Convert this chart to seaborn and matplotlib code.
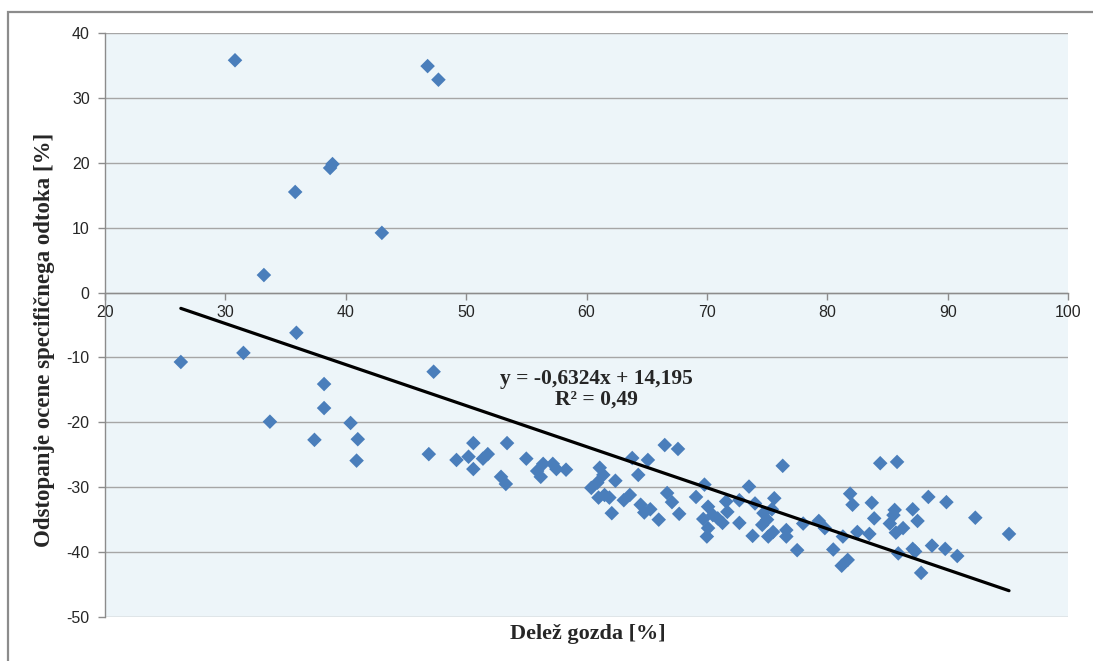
import matplotlib
matplotlib.use("Agg")
import matplotlib.pyplot as plt
import seaborn as sns
import pandas as pd
import numpy as np
from matplotlib.patches import Rectangle

# ---- data ----
forest_share = [
    30.8, 46.8, 47.7, 38.7, 38.9, 35.8, 43.0, 33.2, 35.9, 26.3, 31.5, 38.2, 38.2,
    33.7, 37.4, 40.4, 41.0, 40.9, 47.3, 46.9, 49.2, 50.2, 50.6, 50.6, 51.4, 51.8,
    53.4, 52.9, 53.3, 55.0, 55.9, 56.2, 56.4, 57.2, 57.5, 58.3, 61.1, 61.4, 60.4,
    60.9, 61.0, 61.5, 61.9, 62.4, 62.1, 63.1, 63.6, 63.8, 64.3, 64.5, 64.8, 65.3,
    65.1, 66.0, 66.5, 66.7, 67.6, 67.1, 67.7, 69.1, 69.8, 69.7, 70.1, 70.1, 70.0,
    70.5, 70.9, 71.3, 71.6, 71.7, 72.7, 72.7, 73.5, 74.0, 73.8, 74.7, 74.6, 75.0,
    75.1, 75.5, 75.6, 75.4, 76.3, 76.6, 76.6, 77.5, 78.0, 79.3, 79.8, 80.5, 81.2,
    81.7, 81.9, 82.1, 81.3, 82.5, 84.4, 85.8, 83.7, 83.9, 83.5, 85.2, 85.6, 85.5,
    85.7, 86.3, 85.9, 87.1, 87.5, 87.1, 87.3, 87.8, 88.4, 88.7, 89.9, 89.8, 90.8,
    92.3, 95.1,
]
runoff_deviation = [
    35.8, 34.9, 32.8, 19.2, 19.8, 15.5, 9.2, 2.7, -6.2, -10.7, -9.3, -14.1, -17.8,
    -19.9, -22.7, -20.1, -22.6, -25.9, -12.2, -24.9, -25.8, -25.3, -23.2, -27.2, -25.6, -24.9,
    -23.2, -28.4, -29.5, -25.6, -27.5, -28.4, -26.4, -26.4, -27.2, -27.3, -27.0, -28.1, -30.1,
    -29.3, -31.6, -31.2, -31.6, -29.0, -34.0, -32.0, -31.2, -25.5, -28.1, -32.7, -33.9, -33.4,
    -25.8, -35.0, -23.5, -30.9, -24.1, -32.3, -34.1, -31.5, -29.6, -34.9, -33.0, -36.3, -37.6,
    -34.3, -34.8, -35.5, -32.2, -33.8, -32.0, -35.5, -29.9, -32.5, -37.5, -34.0, -35.8, -35.0,
    -37.6, -36.9, -31.7, -33.4, -26.7, -36.6, -37.6, -39.7, -35.6, -35.2, -36.3, -39.6, -42.1,
    -41.2, -31.0, -32.7, -37.6, -36.9, -26.3, -26.1, -32.4, -34.8, -37.2, -35.6, -33.5, -34.3,
    -37.0, -36.3, -40.2, -33.4, -35.2, -39.5, -39.9, -43.2, -31.5, -39.0, -32.3, -39.5, -40.6,
    -34.7, -37.2,
]
trend_slope = -0.6324
trend_intercept = 14.195
trend_label = "y = -0,6324x + 14,195\nR² = 0,49"
x_ticks = [20, 30, 40, 50, 60, 70, 80, 90, 100]
y_ticks = [40, 30, 20, 10, 0, -10, -20, -30, -40, -50]
x_label = "Delež gozda [%]"
y_label = "Odstopanje ocene specifičnega odtoka [%]"

df = pd.DataFrame({"x": forest_share, "y": runoff_deviation})
x_line = np.array([min(forest_share), max(forest_share)])
trend_df = pd.DataFrame({"x": x_line, "y": trend_slope * x_line + trend_intercept})

sns.set_theme(style="white")
plt.rcParams["font.family"] = ["Liberation Sans", "DejaVu Sans"]

fig = plt.figure(figsize=(10.93, 6.61), dpi=100)
ax = fig.add_axes([105 / 1093, 1 - 617 / 661, (1068 - 105) / 1093, (617 - 33) / 661])
ax.set_facecolor("#EDF5F9")

# outer chart frame (left and top edges visible)
frame_top = 1 - 12 / 661
fig.patches.append(Rectangle((8 / 1093, -0.2), 1.2, frame_top + 0.2,
                             transform=fig.transFigure, fill=False,
                             edgecolor="#8C8C8C", linewidth=1.6, zorder=0))

for yv in y_ticks:
    ax.axhline(yv, color="#A6A6A6", linewidth=1.0, zorder=1)

sns.scatterplot(data=df, x="x", y="y", ax=ax, marker="D", s=55,
                color="#4A7EBB", edgecolor="none", linewidth=0, zorder=3)
sns.lineplot(data=trend_df, x="x", y="y", ax=ax, color="black",
             linewidth=2.3, zorder=4)

ax.text(60.8, -14.9, trend_label, ha="center", va="center",
        fontsize=15.5, fontweight="bold", family=["Liberation Serif"],
        linespacing=1.0, zorder=5)

ax.set_xlim(20, 100)
ax.set_ylim(-50, 40)
ax.set_xticks(x_ticks)
ax.set_yticks(y_ticks)
ax.set_xticklabels([str(v) for v in x_ticks])
ax.set_yticklabels([str(v) for v in y_ticks])

for s in ["top", "right"]:
    ax.spines[s].set_visible(False)
ax.spines["left"].set_color("#8C8C8C")
ax.spines["bottom"].set_color("#8C8C8C")
ax.spines["bottom"].set_position(("data", 0))
ax.spines["left"].set_linewidth(1.0)
ax.spines["bottom"].set_linewidth(1.0)
ax.tick_params(axis="both", which="major", direction="out", length=5,
               width=1, color="#8C8C8C", labelsize=11.5, labelcolor="#262626",
               bottom=True, left=True)
ax.tick_params(axis="x", pad=4)
ax.tick_params(axis="y", pad=6)

ax.set_xlabel("")
ax.set_ylabel("")
fig.text(588 / 1093, 1 - 634 / 661, x_label, ha="center", va="center",
         fontsize=16, fontweight="bold", family=["Liberation Serif"])
fig.text(45 / 1093, 1 - 340 / 661, y_label, ha="center", va="center",
         rotation=90, fontsize=16.5, fontweight="bold", family=["Liberation Serif"])

fig.savefig("out.png", dpi=100)
